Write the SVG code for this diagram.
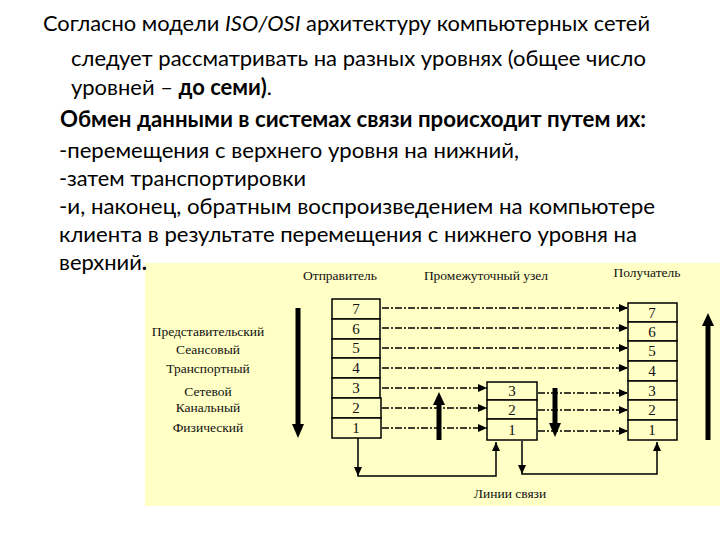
<svg xmlns="http://www.w3.org/2000/svg" width="720" height="540" viewBox="0 0 720 540">
<defs>
<marker id="ah" markerUnits="userSpaceOnUse" markerWidth="10" markerHeight="8" refX="9" refY="4" orient="auto"><path d="M0,0 L9,4 L0,8 Z" fill="#000"/></marker>
</defs>
<style>
.t{font-family:Lato,"Open Sans",sans-serif;font-size:22px;fill:#000}
.b{font-weight:bold}
.i{font-style:italic}
.s{font-family:"Liberation Serif","Times New Roman",serif;font-size:13.5px;fill:#111;text-anchor:middle}
.n{font-family:"Liberation Serif","Times New Roman",serif;font-size:15px;fill:#111;text-anchor:middle}
.box{fill:#ffffc6;stroke:#000;stroke-width:1.5}
.dash{stroke:#000;stroke-width:1.5;stroke-dasharray:7 2 2 2;fill:none;marker-end:url(#ah)}
.thin{stroke:#000;stroke-width:1.5;fill:none}
.bar{stroke:#000;stroke-width:5}
</style>
<rect x="0" y="0" width="720" height="540" fill="#fff"/>
<rect x="145" y="263" width="575" height="243" fill="#ffffc6"/>

<g id="text">
<text class="t" x="43" y="31" textLength="607" lengthAdjust="spacingAndGlyphs">Согласно модели <tspan class="i">ISO/OSI</tspan> архитектуру компьютерных сетей</text>
<text class="t" x="71" y="66" textLength="575" lengthAdjust="spacingAndGlyphs">следует рассматривать на разных уровнях (общее число</text>
<text class="t" x="71" y="95" textLength="201" lengthAdjust="spacingAndGlyphs">уровней – <tspan class="b">до семи)</tspan>.</text>
<text class="t b" x="60" y="127" textLength="586" lengthAdjust="spacingAndGlyphs">Обмен данными в системах связи происходит путем их:</text>
<text class="t" x="59" y="158" textLength="460" lengthAdjust="spacingAndGlyphs">-перемещения с верхнего уровня на нижний,</text>
<text class="t" x="59" y="186" textLength="247" lengthAdjust="spacingAndGlyphs">-затем транспортировки</text>
<text class="t" x="59" y="214" textLength="596" lengthAdjust="spacingAndGlyphs">-и, наконец, обратным воспроизведением на компьютере</text>
<text class="t" x="59" y="242" textLength="578" lengthAdjust="spacingAndGlyphs">клиента в результате перемещения с нижнего уровня на</text>
<text class="t" x="59" y="270" textLength="88" lengthAdjust="spacingAndGlyphs">верхний<tspan class="b">.</tspan></text>
</g>

<g id="labels">
<text class="s" x="340" y="280">Отправитель</text>
<text class="s" x="486" y="280">Промежуточный узел</text>
<text class="s" x="647" y="277">Получатель</text>
<text class="s" x="208" y="336">Представительский</text>
<text class="s" x="208" y="354">Сеансовый</text>
<text class="s" x="208" y="373">Транспортный</text>
<text class="s" x="208" y="396">Сетевой</text>
<text class="s" x="208" y="412">Канальный</text>
<text class="s" x="208" y="432">Физический</text>
<text class="s" x="510" y="498">Линии связи</text>
</g>

<g id="sender">
<rect class="box" x="332" y="299" width="48" height="20"/><text class="n" x="356" y="314">7</text>
<rect class="box" x="332" y="319" width="48" height="20"/><text class="n" x="356" y="334">6</text>
<rect class="box" x="332" y="339" width="48" height="19"/><text class="n" x="356" y="353">5</text>
<rect class="box" x="332" y="358" width="48" height="20"/><text class="n" x="356" y="373">4</text>
<rect class="box" x="332" y="378" width="48" height="20"/><text class="n" x="356" y="393">3</text>
<rect class="box" x="332" y="398" width="49" height="20"/><text class="n" x="356" y="413">2</text>
<rect class="box" x="332" y="418" width="49" height="20"/><text class="n" x="356" y="433">1</text>
</g>

<g id="intermediate">
<rect class="box" x="487" y="382" width="50" height="18"/><text class="n" x="512" y="396">3</text>
<rect class="box" x="487" y="400" width="50" height="19"/><text class="n" x="512" y="415">2</text>
<rect class="box" x="487" y="419" width="50" height="21"/><text class="n" x="512" y="435">1</text>
</g>

<g id="receiver">
<rect class="box" x="628" y="303" width="49" height="19"/><text class="n" x="652" y="318">7</text>
<rect class="box" x="628" y="322" width="49" height="19"/><text class="n" x="652" y="337">6</text>
<rect class="box" x="628" y="341" width="49" height="20"/><text class="n" x="652" y="356">5</text>
<rect class="box" x="628" y="361" width="49" height="20"/><text class="n" x="652" y="376">4</text>
<rect class="box" x="628" y="381" width="49" height="19"/><text class="n" x="652" y="396">3</text>
<rect class="box" x="628" y="400" width="49" height="20"/><text class="n" x="652" y="415">2</text>
<rect class="box" x="628" y="420" width="49" height="20"/><text class="n" x="652" y="435">1</text>
</g>

<g id="connectors">
<path class="dash" d="M382,308 H628"/>
<path class="dash" d="M382,328 H628"/>
<path class="dash" d="M382,348 H628"/>
<path class="dash" d="M382,368 H628"/>
<path class="dash" d="M382,388 H487"/>
<path class="dash" d="M382,408 H487"/>
<path class="dash" d="M382,428 H487"/>
<path class="dash" d="M538,393 H628"/>
<path class="dash" d="M538,410 H628"/>
<path class="dash" d="M538,431 H628"/>

<line class="bar" x1="298" y1="308" x2="298" y2="426"/>
<polygon points="292,424 304,424 298,438" fill="#000"/>
<line class="bar" x1="439" y1="440" x2="439" y2="404"/>
<polygon points="433,405 445,405 439,392" fill="#000"/>
<line class="bar" x1="555" y1="388" x2="555" y2="424"/>
<polygon points="549,423 561,423 555,437" fill="#000"/>
<line class="bar" x1="708" y1="440" x2="708" y2="325"/>
<polygon points="702,326 714,326 708,313" fill="#000"/>

<path class="thin" d="M358,438 V476 H496 V442" marker-end="url(#ah)"/>
<polygon points="354,467 362,467 358,476" fill="#000"/>
<path class="thin" d="M522,441 V474 H657 V442" marker-end="url(#ah)"/>
<polygon points="518,465 526,465 522,474" fill="#000"/>
</g>
</svg>
